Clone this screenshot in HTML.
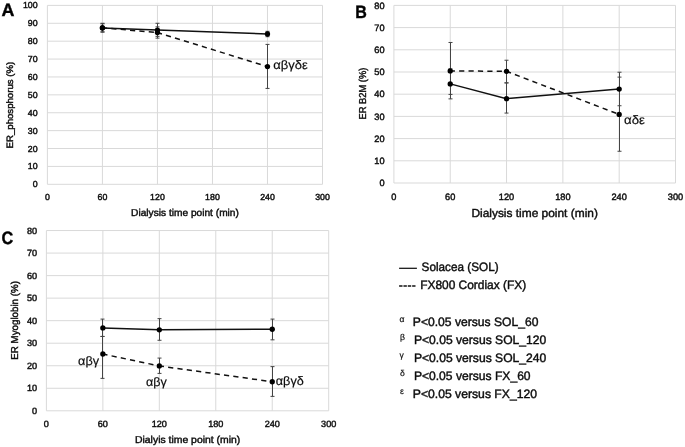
<!DOCTYPE html>
<html><head><meta charset="utf-8"><title>Figure</title>
<style>
html,body{margin:0;padding:0;background:#fff;}
body{width:685px;height:447px;overflow:hidden;}
svg{display:block;text-rendering:geometricPrecision;will-change:transform;font-family:"Liberation Sans",sans-serif;fill:#0c0c0c;}
text{stroke:#0c0c0c;stroke-width:0.42px;}
text.g{stroke-width:0.18px;}
</style></head><body>
<svg width="685" height="447" viewBox="0 0 685 447">
<rect width="685" height="447" fill="#fff"/>
<path d="M47.40 184.30H322.50M47.40 166.41H322.50M47.40 148.52H322.50M47.40 130.63H322.50M47.40 112.74H322.50M47.40 94.85H322.50M47.40 76.96H322.50M47.40 59.07H322.50M47.40 41.18H322.50M47.40 23.29H322.50M47.40 5.40H322.50M47.40 184.30V5.40M102.42 184.30V5.40M157.44 184.30V5.40M212.46 184.30V5.40M267.48 184.30V5.40M322.50 184.30V5.40" stroke="#d9d9d9" stroke-width="1.0" fill="none"/>
<text x="37.60" y="187.34" font-size="8.8" text-anchor="end">0</text>
<text x="37.60" y="169.45" font-size="8.8" text-anchor="end">10</text>
<text x="37.60" y="151.56" font-size="8.8" text-anchor="end">20</text>
<text x="37.60" y="133.67" font-size="8.8" text-anchor="end">30</text>
<text x="37.60" y="115.78" font-size="8.8" text-anchor="end">40</text>
<text x="37.60" y="97.89" font-size="8.8" text-anchor="end">50</text>
<text x="37.60" y="80.00" font-size="8.8" text-anchor="end">60</text>
<text x="37.60" y="62.11" font-size="8.8" text-anchor="end">70</text>
<text x="37.60" y="44.22" font-size="8.8" text-anchor="end">80</text>
<text x="37.60" y="26.33" font-size="8.8" text-anchor="end">90</text>
<text x="37.60" y="8.44" font-size="8.8" text-anchor="end">100</text>
<text x="47.40" y="200.10" font-size="8.8" text-anchor="middle">0</text>
<text x="102.42" y="200.10" font-size="8.8" text-anchor="middle">60</text>
<text x="157.44" y="200.10" font-size="8.8" text-anchor="middle">120</text>
<text x="212.46" y="200.10" font-size="8.8" text-anchor="middle">180</text>
<text x="267.48" y="200.10" font-size="8.8" text-anchor="middle">240</text>
<text x="322.50" y="200.10" font-size="8.8" text-anchor="middle">300</text>
<text x="131.10" y="215.50" font-size="10" textLength="107.8" lengthAdjust="spacingAndGlyphs">Dialysis time point (min)</text>
<text transform="translate(13.00 148.40) rotate(-90)" font-size="9.3" textLength="86.6" lengthAdjust="spacingAndGlyphs">ER_phosphorus (%)</text>
<path d="M102.50 32.24V23.29M100.50 32.24h4M100.50 23.29h4M157.50 36.35V23.29M155.50 36.35h4M155.50 23.29h4M267.50 36.71V31.34M265.50 36.71h4M265.50 31.34h4M102.50 31.70V23.83M100.50 31.70h4M100.50 23.83h4M157.50 38.14V26.87M155.50 38.14h4M155.50 26.87h4M267.50 88.41V44.40M265.50 88.41h4M265.50 44.40h4" stroke="#444" stroke-width="1.0" fill="none"/>
<polyline points="102.42,28.12 157.44,30.09 267.48,34.02" stroke="#111" stroke-width="1.5" fill="none"/>
<path d="M102.42 27.76L157.44 32.59" stroke="#111" stroke-width="1.5" stroke-dasharray="5.2 4.2" stroke-dashoffset="0.50" fill="none"/>
<path d="M157.44 32.59L267.48 66.58" stroke="#111" stroke-width="1.5" stroke-dasharray="5.2 4.2" stroke-dashoffset="0.50" fill="none"/>
<circle cx="102.42" cy="28.12" r="2.65" fill="#000"/>
<circle cx="157.44" cy="30.09" r="2.65" fill="#000"/>
<circle cx="267.48" cy="34.02" r="2.65" fill="#000"/>
<circle cx="102.42" cy="27.76" r="2.65" fill="#000"/>
<circle cx="157.44" cy="32.59" r="2.65" fill="#000"/>
<circle cx="267.48" cy="66.58" r="2.65" fill="#000"/>
<text class="g" x="273.2" y="69.2" font-size="12.2" textLength="34.5" lengthAdjust="spacingAndGlyphs">αβγδε</text>
<path d="M393.90 183.00H675.50M393.90 160.80H675.50M393.90 138.60H675.50M393.90 116.40H675.50M393.90 94.20H675.50M393.90 72.00H675.50M393.90 49.80H675.50M393.90 27.60H675.50M393.90 5.40H675.50M393.90 183.00V5.40M450.22 183.00V5.40M506.54 183.00V5.40M562.86 183.00V5.40M619.18 183.00V5.40M675.50 183.00V5.40" stroke="#d9d9d9" stroke-width="1.0" fill="none"/>
<text x="384.50" y="186.17" font-size="9.2" text-anchor="end">0</text>
<text x="384.50" y="163.97" font-size="9.2" text-anchor="end">10</text>
<text x="384.50" y="141.77" font-size="9.2" text-anchor="end">20</text>
<text x="384.50" y="119.57" font-size="9.2" text-anchor="end">30</text>
<text x="384.50" y="97.37" font-size="9.2" text-anchor="end">40</text>
<text x="384.50" y="75.17" font-size="9.2" text-anchor="end">50</text>
<text x="384.50" y="52.97" font-size="9.2" text-anchor="end">60</text>
<text x="384.50" y="30.77" font-size="9.2" text-anchor="end">70</text>
<text x="384.50" y="8.57" font-size="9.2" text-anchor="end">80</text>
<text x="393.90" y="199.50" font-size="9.2" text-anchor="middle">0</text>
<text x="450.22" y="199.50" font-size="9.2" text-anchor="middle">60</text>
<text x="506.54" y="199.50" font-size="9.2" text-anchor="middle">120</text>
<text x="562.86" y="199.50" font-size="9.2" text-anchor="middle">180</text>
<text x="619.18" y="199.50" font-size="9.2" text-anchor="middle">240</text>
<text x="675.50" y="199.50" font-size="9.2" text-anchor="middle">300</text>
<text x="471.40" y="216.60" font-size="11.6" textLength="126.5" lengthAdjust="spacingAndGlyphs">Dialysis time point (min)</text>
<text transform="translate(366.00 119.60) rotate(-90)" font-size="10" textLength="51.9" lengthAdjust="spacingAndGlyphs">ER B2M (%)</text>
<path d="M450.50 98.86V68.89M448.50 98.86h4M448.50 68.89h4M506.50 113.07V82.88M504.50 113.07h4M504.50 82.88h4M619.50 105.74V72.22M617.50 105.74h4M617.50 72.22h4M450.50 94.42V42.47M448.50 94.42h4M448.50 42.47h4M506.50 82.88V60.23M504.50 82.88h4M504.50 60.23h4M619.50 151.25V77.11M617.50 151.25h4M617.50 77.11h4" stroke="#444" stroke-width="1.0" fill="none"/>
<polyline points="450.22,83.88 506.54,98.64 619.18,89.09" stroke="#111" stroke-width="1.5" fill="none"/>
<path d="M450.22 70.89L506.54 71.33" stroke="#111" stroke-width="1.5" stroke-dasharray="5.2 4.2" stroke-dashoffset="0.50" fill="none"/>
<path d="M506.54 71.33L619.18 114.40" stroke="#111" stroke-width="1.5" stroke-dasharray="5.2 4.2" stroke-dashoffset="0.50" fill="none"/>
<circle cx="450.22" cy="83.88" r="2.65" fill="#000"/>
<circle cx="506.54" cy="98.64" r="2.65" fill="#000"/>
<circle cx="619.18" cy="89.09" r="2.65" fill="#000"/>
<circle cx="450.22" cy="70.89" r="2.65" fill="#000"/>
<circle cx="506.54" cy="71.33" r="2.65" fill="#000"/>
<circle cx="619.18" cy="114.40" r="2.65" fill="#000"/>
<text class="g" x="624.1" y="124.2" font-size="12.2" textLength="20.9" lengthAdjust="spacingAndGlyphs">αδε</text>
<path d="M46.40 410.80H328.70M46.40 388.27H328.70M46.40 365.74H328.70M46.40 343.21H328.70M46.40 320.68H328.70M46.40 298.14H328.70M46.40 275.61H328.70M46.40 253.08H328.70M46.40 230.55H328.70M46.40 410.80V230.55M102.86 410.80V230.55M159.32 410.80V230.55M215.78 410.80V230.55M272.24 410.80V230.55M328.70 410.80V230.55" stroke="#d9d9d9" stroke-width="1.0" fill="none"/>
<text x="37.10" y="413.94" font-size="9.1" text-anchor="end">0</text>
<text x="37.10" y="391.41" font-size="9.1" text-anchor="end">10</text>
<text x="37.10" y="368.88" font-size="9.1" text-anchor="end">20</text>
<text x="37.10" y="346.35" font-size="9.1" text-anchor="end">30</text>
<text x="37.10" y="323.81" font-size="9.1" text-anchor="end">40</text>
<text x="37.10" y="301.28" font-size="9.1" text-anchor="end">50</text>
<text x="37.10" y="278.75" font-size="9.1" text-anchor="end">60</text>
<text x="37.10" y="256.22" font-size="9.1" text-anchor="end">70</text>
<text x="37.10" y="233.69" font-size="9.1" text-anchor="end">80</text>
<text x="46.40" y="427.30" font-size="9.1" text-anchor="middle">0</text>
<text x="102.86" y="427.30" font-size="9.1" text-anchor="middle">60</text>
<text x="159.32" y="427.30" font-size="9.1" text-anchor="middle">120</text>
<text x="215.78" y="427.30" font-size="9.1" text-anchor="middle">180</text>
<text x="272.24" y="427.30" font-size="9.1" text-anchor="middle">240</text>
<text x="328.70" y="427.30" font-size="9.1" text-anchor="middle">300</text>
<text x="135.00" y="443.20" font-size="10" textLength="105.3" lengthAdjust="spacingAndGlyphs">Dialyis time point (min)</text>
<text transform="translate(17.70 359.70) rotate(-90)" font-size="10" textLength="78.6" lengthAdjust="spacingAndGlyphs">ER Myoglobin (%)</text>
<path d="M102.50 336.45V319.10M100.50 336.45h4M100.50 319.10h4M159.50 340.28V318.65M157.50 340.28h4M157.50 318.65h4M272.50 339.83V319.10M270.50 339.83h4M270.50 319.10h4M102.50 378.36V336.45M100.50 378.36h4M100.50 336.45h4M159.50 373.40V358.08M157.50 373.40h4M157.50 358.08h4M272.50 396.38V366.64M270.50 396.38h4M270.50 366.64h4" stroke="#444" stroke-width="1.0" fill="none"/>
<polyline points="102.86,327.88 159.32,329.78 272.24,329.24" stroke="#111" stroke-width="1.5" fill="none"/>
<path d="M102.86 354.02L159.32 365.96" stroke="#111" stroke-width="1.5" stroke-dasharray="5.2 4.2" stroke-dashoffset="0.50" fill="none"/>
<path d="M159.32 365.96L272.24 381.73" stroke="#111" stroke-width="1.5" stroke-dasharray="5.2 4.2" stroke-dashoffset="0.50" fill="none"/>
<circle cx="102.86" cy="327.88" r="2.65" fill="#000"/>
<circle cx="159.32" cy="329.78" r="2.65" fill="#000"/>
<circle cx="272.24" cy="329.24" r="2.65" fill="#000"/>
<circle cx="102.86" cy="354.02" r="2.65" fill="#000"/>
<circle cx="159.32" cy="365.96" r="2.65" fill="#000"/>
<circle cx="272.24" cy="381.73" r="2.65" fill="#000"/>
<text class="g" x="78.1" y="364.5" font-size="12.2" textLength="21.0" lengthAdjust="spacingAndGlyphs">αβγ</text>
<text class="g" x="146" y="385.7" font-size="12.2" textLength="20.8" lengthAdjust="spacingAndGlyphs">αβγ</text>
<text class="g" x="275.8" y="385" font-size="12.2" textLength="28.0" lengthAdjust="spacingAndGlyphs">αβγδ</text>
<text x="1.6" y="16.3" font-size="17.8" font-weight="bold" fill="#000" textLength="12.9" lengthAdjust="spacingAndGlyphs">A</text>
<text x="355.3" y="17.6" font-size="17.8" font-weight="bold" fill="#000" textLength="11.6" lengthAdjust="spacingAndGlyphs">B</text>
<text x="1.6" y="244.0" font-size="17.8" font-weight="bold" fill="#000" textLength="11.7" lengthAdjust="spacingAndGlyphs">C</text>
<path d="M399.1 268.3H416.9" stroke="#111" stroke-width="1.25"/>
<text x="421.6" y="271.4" font-size="12.2" textLength="77" lengthAdjust="spacingAndGlyphs">Solacea (SOL)</text>
<path d="M399.1 286.1H415.5" stroke="#111" stroke-width="1.5" stroke-dasharray="3.4 0.95"/>
<text x="420.2" y="289.3" font-size="12.2" textLength="106" lengthAdjust="spacingAndGlyphs">FX800 Cordiax (FX)</text>
<text class="g" x="399.50" y="321.90" font-size="8.6">α</text>
<text x="412.80" y="325.6" font-size="12.2" textLength="125.6" lengthAdjust="spacingAndGlyphs">P&lt;0.05 versus SOL_60</text>
<text class="g" x="400.00" y="340.10" font-size="8.6">β</text>
<text x="413.90" y="343.8" font-size="12.2" textLength="132.4" lengthAdjust="spacingAndGlyphs">P&lt;0.05 versus SOL_120</text>
<text class="g" x="399.50" y="358.10" font-size="8.6">γ</text>
<text x="413.90" y="361.8" font-size="12.2" textLength="132.4" lengthAdjust="spacingAndGlyphs">P&lt;0.05 versus SOL_240</text>
<text class="g" x="400.00" y="376.00" font-size="8.6">δ</text>
<text x="413.90" y="379.7" font-size="12.2" textLength="116.7" lengthAdjust="spacingAndGlyphs">P&lt;0.05 versus FX_60</text>
<text class="g" x="400.00" y="394.30" font-size="8.6">ε</text>
<text x="412.80" y="398" font-size="12.2" textLength="124.2" lengthAdjust="spacingAndGlyphs">P&lt;0.05 versus FX_120</text>
</svg>
</body></html>
